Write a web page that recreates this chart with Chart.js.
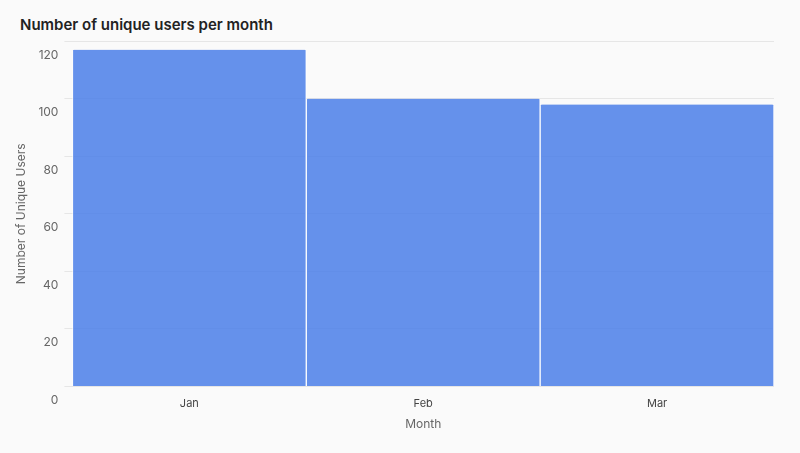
<!DOCTYPE html>
<html>
<head>
<meta charset="utf-8">
<script src="https://cdn.jsdelivr.net/npm/chart.js@4/dist/chart.umd.min.js"></script>
<style>
  body { margin: 0; background: #fafafa; font-family: Inter, sans-serif; }
  #title { position: absolute; left: 20px; top: 15px; font-size: 15px; font-weight: 600; color: #222; }
  #wrap { position: absolute; left: 10px; top: 28px; width: 780px; height: 420px; }
</style>
</head>
<body>
<div id="title">Number of unique users per month</div>
<div id="wrap"><canvas id="c"></canvas></div>
<script>
var months = ['Jan', 'Feb', 'Mar'];
var uniqueUsers = [117, 100, 98];

new Chart(document.getElementById('c'), {
  type: 'bar',
  data: {
    labels: months,
    datasets: [{
      data: uniqueUsers,
      backgroundColor: 'rgba(80,130,232,0.88)',
      borderColor: '#ffffff',
      borderWidth: { left: 1, right: 1, top: 0, bottom: 0 },
      borderRadius: 2,
      barPercentage: 1,
      categoryPercentage: 1
    }]
  },
  options: {
    responsive: true,
    maintainAspectRatio: false,
    animation: false,
    plugins: { legend: { display: false }, tooltip: { enabled: false } },
    layout: { padding: { right: 16, top: 10, bottom: 12 } },
    scales: {
      x: {
        grid: { display: false },
        border: { display: false },
        ticks: { color: '#444', font: { family: 'Inter', size: 11 } },
        title: { display: true, text: 'Month', color: '#666', font: { family: 'Inter', size: 12 } }
      },
      y: {
        min: 0, max: 120,
        grid: { color: '#e6e6e6' },
        border: { display: false },
        ticks: { stepSize: 20, color: '#666', labelOffset: 14, padding: 6, font: { family: 'Inter', size: 12 } },
        title: { display: true, text: 'Number of Unique Users', color: '#666', font: { family: 'Inter', size: 12 } }
      }
    }
  }
});
</script>
</body>
</html>
